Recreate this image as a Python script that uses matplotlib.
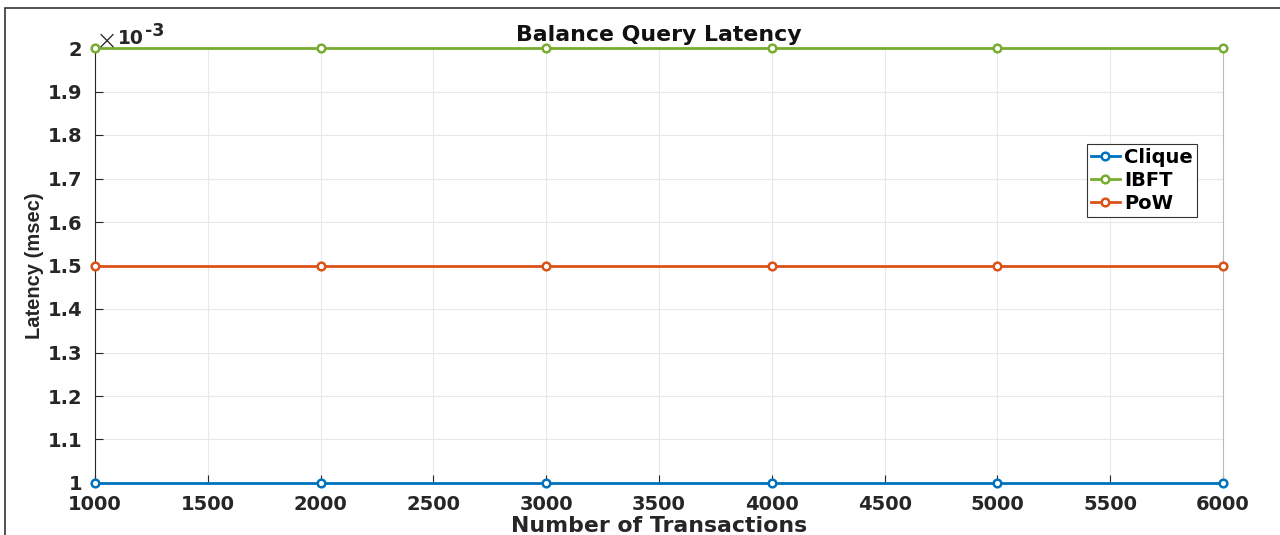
import matplotlib
matplotlib.use("Agg")
import matplotlib.pyplot as plt
from matplotlib.ticker import FuncFormatter, MultipleLocator
from matplotlib.patches import Rectangle

transactions = [1000, 2000, 3000, 4000, 5000, 6000]
clique = [0.001, 0.001, 0.001, 0.001, 0.001, 0.001]
ibft = [0.002, 0.002, 0.002, 0.002, 0.002, 0.002]
pow_ = [0.0015, 0.0015, 0.0015, 0.0015, 0.0015, 0.0015]
series_names = ["Clique", "IBFT", "PoW"]
colors = ["#0072BD", "#77AC30", "#D95319"]

plt.rcParams['font.family'] = ['DejaVu Sans']
TXT = "#262626"

fig = plt.figure(figsize=(12.8, 5.35), dpi=100)
W, H = 1280, 535
ax = fig.add_axes([95 / W, 1 - 483 / H, (1223 - 95) / W, (483 - 48) / H])

# outer frame
fig.patches.append(Rectangle((5 / W, -0.1), 1.2, 1 - 8 / H + 0.1, transform=fig.transFigure,
                             fill=False, edgecolor="#333333", linewidth=1.2))

for vals, name, c in zip([clique, ibft, pow_], series_names, colors):
    ax.plot(transactions, vals, color=c, linewidth=2, marker='o', markersize=5.5,
            markerfacecolor='white', markeredgewidth=1.8, label=name, clip_on=False, zorder=3)

ax.set_xlim(1000, 6000)
ax.set_ylim(0.001, 0.002)
ax.xaxis.set_major_locator(MultipleLocator(500))
ax.yaxis.set_major_locator(MultipleLocator(0.0001))
ax.yaxis.set_major_formatter(FuncFormatter(lambda v, p: f"{v * 1000:.1f}".rstrip('0').rstrip('.')))
ax.grid(True, color="#e8e8e8", linewidth=0.8)
ax.set_axisbelow(True)
ax.tick_params(direction='in', length=6, width=0.8, colors=TXT, labelsize=14)
ax.tick_params(axis='y', pad=9)
ax.tick_params(axis='x', pad=9)
for lab in ax.get_xticklabels() + ax.get_yticklabels():
    lab.set_fontweight('bold')
for s in ['top', 'bottom']:
    ax.spines[s].set_visible(False)
ax.spines['left'].set_color(TXT)
ax.spines['right'].set_color("#bbbbbb")

ax.set_title("Balance Query Latency", fontsize=15.8, fontweight='bold', pad=5, color="#111111")
ax.set_xlabel("Number of Transactions", fontsize=15.8, fontweight='bold', labelpad=1, color=TXT)
ax.set_ylabel("Latency (msec)", fontsize=14.5, fontweight='bold', labelpad=3, color=TXT,
              family=['Liberation Sans Narrow', 'Liberation Sans', 'DejaVu Sans'])

fig.text(96 / W, 1 - 41 / H, "×", fontsize=19, fontweight='light', color=TXT, va='center', ha='left')
fig.text(118 / W, 1 - 38 / H, "10", fontsize=13.5, fontweight='bold', color=TXT, va='center', ha='left')
fig.text(145 / W, 1 - 31 / H, "-3", fontsize=12.5, fontweight='bold', color=TXT, va='center', ha='left')

leg = ax.legend(loc='upper left', bbox_to_anchor=((1087 - 95) / (1223 - 95), 1 - (144 - 48) / (483 - 48)),
                fancybox=False, edgecolor="#333333", framealpha=1, handlelength=1.5,
                handletextpad=0.2, borderpad=0.2, labelspacing=0.2, borderaxespad=0,
                prop={'weight': 'bold', 'size': 14})
leg.get_frame().set_linewidth(0.8)

fig.savefig("out.png", dpi=100)
